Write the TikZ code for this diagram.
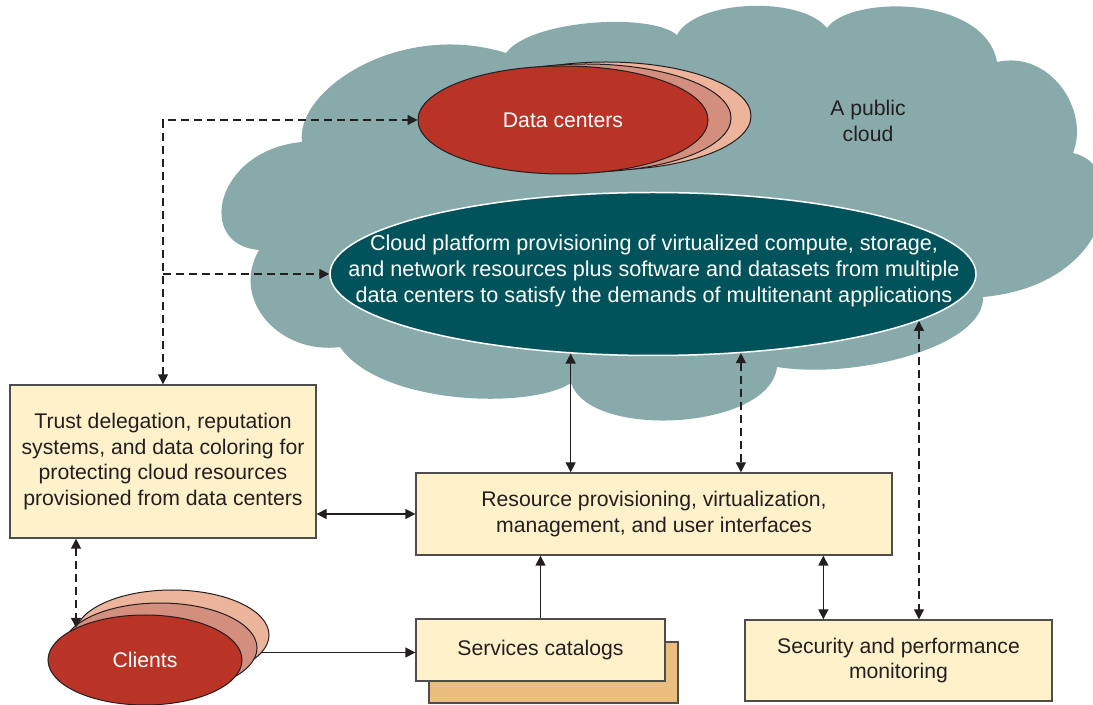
\documentclass[tikz,border=0pt]{standalone}
\usepackage{fontspec}
\setmainfont{Liberation Sans}
\usetikzlibrary{shapes.geometric,arrows.meta}
\definecolor{cloudgray}{RGB}{136,170,171}
\definecolor{platteal}{RGB}{0,83,90}
\definecolor{dcred}{RGB}{185,51,38}
\definecolor{dcmid}{RGB}{212,142,126}
\definecolor{dclight}{RGB}{236,180,154}
\definecolor{boxfill}{RGB}{255,242,203}
\definecolor{boxline}{RGB}{77,77,77}
\definecolor{catback}{RGB}{233,190,126}
\definecolor{ink}{RGB}{35,31,32}
\begin{document}
\begin{tikzpicture}[x=.5pt,y=-.5pt,
		every node/.style={font=\fontsize{10.6}{12.7}\selectfont,text=ink},
		box/.style={draw=boxline,fill=boxfill,line width=.65pt,align=center,inner sep=0pt},
		dcell/.style={ellipse,draw=ink,line width=.5pt,inner sep=0pt,minimum width=145pt,minimum height=54pt},
		clell/.style={ellipse,draw=ink,line width=.5pt,inner sep=0pt,minimum width=97pt,minimum height=45pt},
		conn/.style={ink,line width=.65pt},
		dsh/.style={conn,dash pattern=on 4pt off 2.5pt},
		>={Triangle[length=5pt,width=5pt]}]
		\useasboundingbox (0,0) rectangle (1093,705);
		\fill[cloudgray] (259,250) .. controls (195,245) and (215,150) .. (302,142)
			.. controls (295,90) and (400,20) .. (506,53)
			.. controls (530,20) and (650,12) .. (677,35)
			.. controls (695,0) and (800,-5) .. (827,28)
			.. controls (850,-5) and (985,-5) .. (997,62)
			.. controls (1050,50) and (1090,110) .. (1073,153)
			.. controls (1130,165) and (1115,285) .. (983,297)
			.. controls (985,345) and (860,380) .. (777,367)
			.. controls (770,430) and (590,440) .. (571,383)
			.. controls (530,410) and (380,405) .. (340,347)
			.. controls (280,355) and (230,300) .. cycle;
		\node[dcell,fill=dclight] (dc3) at (606,116) {};
		\node[dcell,fill=dcmid] (dc2) at (586,118) {};
		\node[dcell,fill=dcred,text=white] (dc) at (563,120) {Data centers};
		\node[ellipse,draw=white,line width=.75pt,fill=platteal,inner sep=0pt,minimum width=323pt,minimum height=81.5pt] (plat) at (653,274) {};
		\node[text=white,align=center,font=\fontsize{10.8}{13}\selectfont] (plattxt) at (654,271) {Cloud platform provisioning of virtualized compute, storage,\\and network resources plus software and datasets from multiple\\data centers to satisfy the demands of multitenant applications};
		\node[align=center] (pub) at (868,121) {A public\\cloud};
		\node[box,minimum width=153pt,minimum height=76.5pt] (trust) at (163,461.5) {Trust delegation, reputation\\systems, and data coloring for\\protecting cloud resources\\provisioned from data centers};
		\node[box,minimum width=238pt,minimum height=41pt] (res) at (654,514) {Resource provisioning, virtualization,\\management, and user interfaces};
		\node[box,fill=catback,minimum width=124.5pt,minimum height=30.5pt] (catbk) at (553.5,672.5) {};
		\node[box,minimum width=124.5pt,minimum height=31pt] (svc) at (540.5,650) {Services catalogs};
		\node[box,minimum width=153.5pt,minimum height=40.5pt] (sec) at (898.5,660.5) {Security and performance\\monitoring};
		\node[clell,fill=dclight] (cl3) at (172,635) {};
		\node[clell,fill=dcmid] (cl2) at (160,648) {};
		\node[clell,fill=dcred,text=white] (cl) at (145,660) {Clients};
		\draw[dsh,<->] (trust.north) |- (dc.west);
		\draw[dsh,->] (trust.north |- plat.west) -- (plat.west);
		\draw[conn,<->] (res.west -| trust.east) -- (res.west);
		\draw[conn,<->] (plat.-136.4) -- (plat.-136.4 |- res.north);
		\draw[dsh,<->] (plat.-42.8) -- (plat.-42.8 |- res.north);
		\draw[dsh,<->] (plat.-10) -- (plat.-10 |- sec.north);
		\coordinate (secup) at ([xshift=39.5pt]sec.north west);
		\draw[conn,<->] (secup |- res.south) -- (secup);
		\draw[dsh,<->] (trust.south -| cl.155) -- (cl.155);
		\draw[conn,->] (cl3.-11) -- (cl3.-11 -| svc.west);
		\draw[conn,->] (svc.north) -- (svc.north |- res.south);
	\end{tikzpicture}
\end{document}
